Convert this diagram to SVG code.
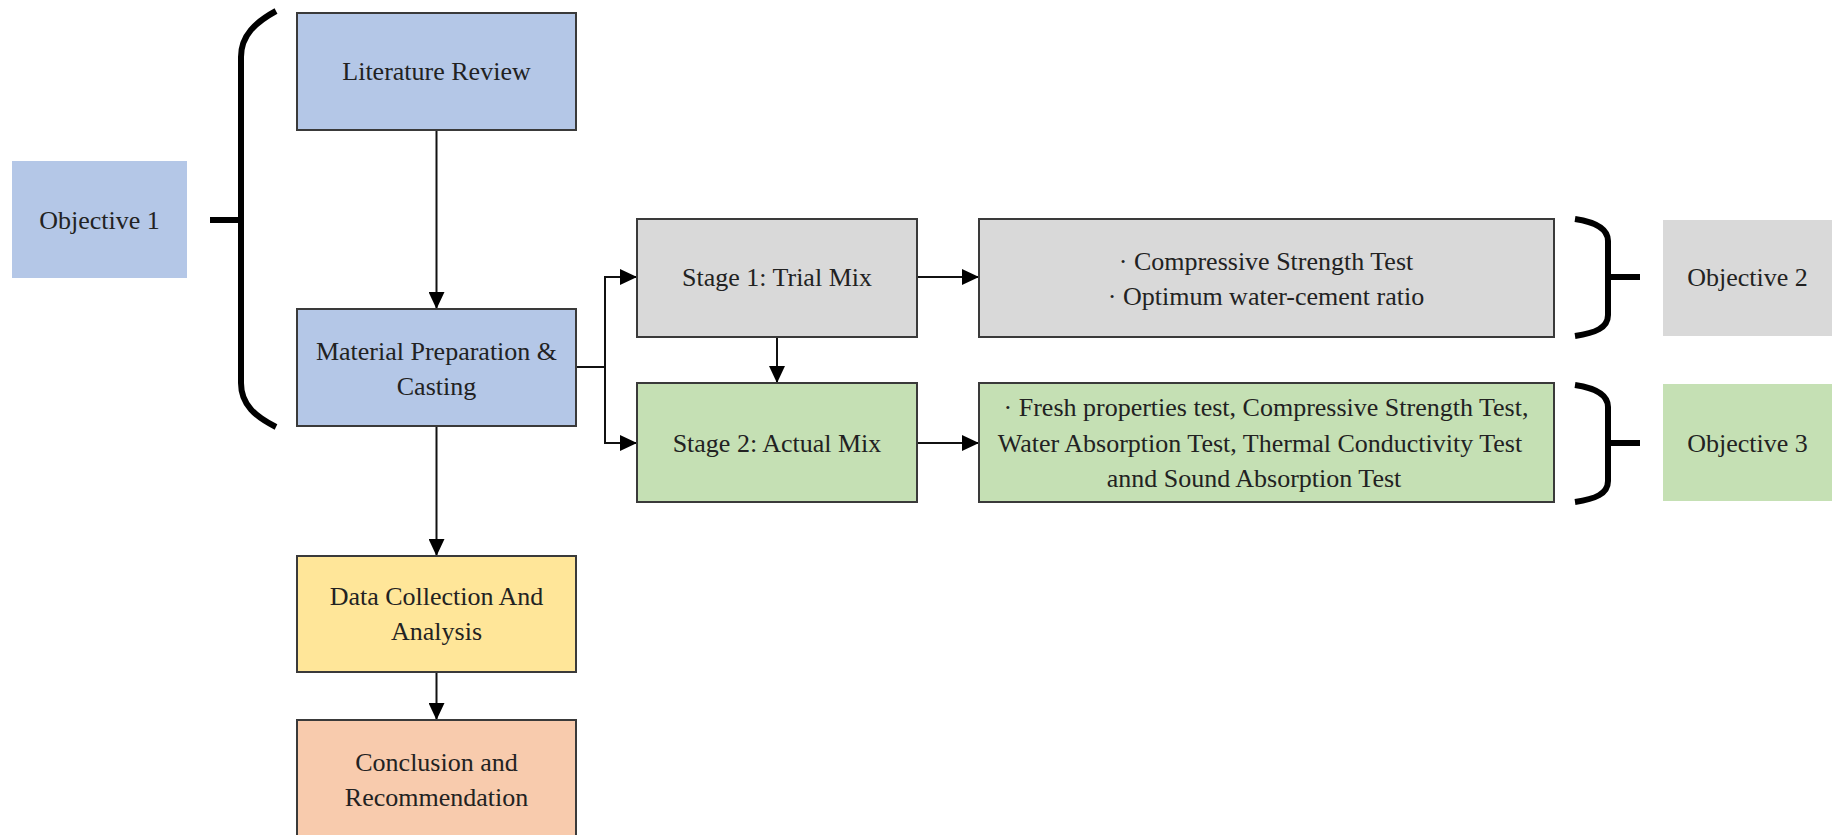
<svg xmlns="http://www.w3.org/2000/svg" width="1832" height="835" viewBox="0 0 1832 835">
<style>
.box{stroke:#3a3a3a;stroke-width:2}
.obj{stroke:none}
.blue{fill:#B4C7E7}.gray{fill:#D9D9D9}.green{fill:#C5E0B4}.yellow{fill:#FFE699}.orange{fill:#F8CBAD}
text{font-family:"Liberation Serif","Times New Roman",serif;font-size:26px;fill:#222;text-anchor:middle}
.conn{fill:none;stroke:#111;stroke-width:2}
.brace{fill:none;stroke:#000;stroke-width:6}
</style>
<defs>
<marker id="arr" markerUnits="userSpaceOnUse" markerWidth="17" markerHeight="16" refX="17" refY="8" orient="auto">
<path d="M0,0 L17,8 L0,16 z" fill="#000"/>
</marker>
</defs>
<rect width="1832" height="835" fill="#fff"/>
<g id="connectors">
<path class="conn" d="M436.5,130 V309" marker-end="url(#arr)"/>
<path class="conn" d="M436.5,426 V556" marker-end="url(#arr)"/>
<path class="conn" d="M436.5,672 V720" marker-end="url(#arr)"/>
<path class="conn" d="M576,367 H605 V277 H637" marker-end="url(#arr)"/>
<path class="conn" d="M605,367 V443 H637" marker-end="url(#arr)"/>
<path class="conn" d="M917,277 H979" marker-end="url(#arr)"/>
<path class="conn" d="M917,443 H979" marker-end="url(#arr)"/>
<path class="conn" d="M777,337 V383" marker-end="url(#arr)"/>
</g>
<g id="braces">
<path class="brace" d="M276,11 C256,22 241,35 241,57 L241,383 C241,405 256,417 276,427 M210,220 H241"/>
<path class="brace" d="M1575,219 C1595,222 1608,228 1608,241 L1608,315 C1608,328 1595,333 1575,336 M1608,277 H1640"/>
<path class="brace" d="M1575,385 C1595,388 1608,394 1608,407 L1608,481 C1608,494 1595,499 1575,502 M1608,443 H1640"/>
</g>
<g id="objective1"><rect class="obj blue" x="12" y="161" width="175" height="117"/><text x="99.5" y="229">Objective 1</text></g>
<g id="literature-review"><rect class="box blue" x="297" y="13" width="279" height="117"/><text x="436.5" y="80">Literature Review</text></g>
<g id="material-preparation"><rect class="box blue" x="297" y="309" width="279" height="117"/><text x="436.5" y="360">Material Preparation &amp;</text><text x="436.5" y="395">Casting</text></g>
<g id="data-collection"><rect class="box yellow" x="297" y="556" width="279" height="116"/><text x="436.5" y="605">Data Collection And</text><text x="436.5" y="640">Analysis</text></g>
<g id="conclusion"><rect class="box orange" x="297" y="720" width="279" height="125"/><text x="436.5" y="771">Conclusion and</text><text x="436.5" y="806">Recommendation</text></g>
<g id="stage1"><rect class="box gray" x="637" y="219" width="280" height="118"/><text x="777" y="286">Stage 1: Trial Mix</text></g>
<g id="stage2"><rect class="box green" x="637" y="383" width="280" height="119"/><text x="777" y="452">Stage 2: Actual Mix</text></g>
<g id="results1"><rect class="box gray" x="979" y="219" width="575" height="118"/><text x="1266" y="270">·  Compressive Strength Test</text><text x="1266" y="305">·  Optimum water-cement ratio</text></g>
<g id="results2"><rect class="box green" x="979" y="383" width="575" height="119"/><text x="1266" y="416">·  Fresh properties test, Compressive Strength Test,</text><text x="1260" y="452">Water Absorption Test, Thermal Conductivity Test</text><text x="1254" y="487">annd Sound Absorption Test</text></g>
<g id="objective2"><rect class="obj gray" x="1663" y="220" width="169" height="116"/><text x="1747.5" y="286">Objective 2</text></g>
<g id="objective3"><rect class="obj green" x="1663" y="384" width="169" height="117"/><text x="1747.5" y="452">Objective 3</text></g>
</svg>
